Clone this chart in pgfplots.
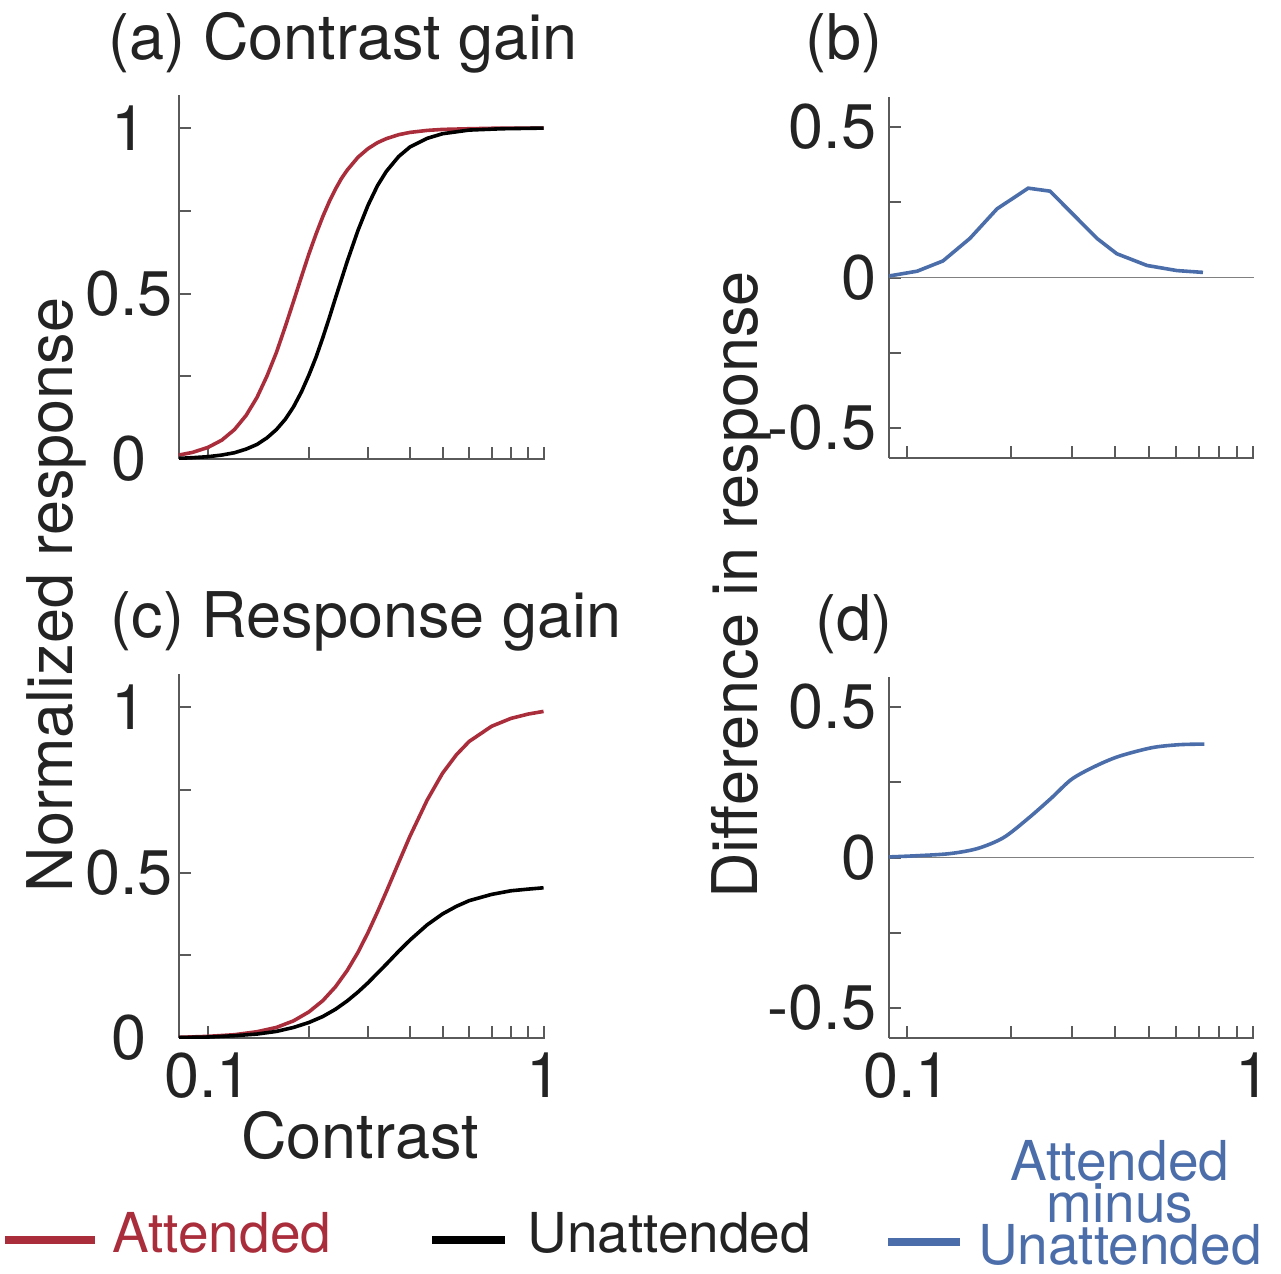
\documentclass[border=0pt]{standalone}
\usepackage{pgfplots}
\pgfplotsset{compat=1.18}
\usepackage{fontspec}
\setmainfont{TeX Gyre Heros}

\definecolor{attred}{RGB}{170,45,60}
\definecolor{diffblue}{RGB}{75,110,170}
\definecolor{axgray}{RGB}{90,90,90}
\definecolor{txt}{RGB}{35,35,35}
\newcommand\mainfs{\fontsize{15.75pt}{18pt}\selectfont}
\newcommand\legfs{\fontsize{13.75pt}{16pt}\selectfont}

\pgfplotsset{
  panel/.style={
    scale only axis,
    axis x line=bottom, axis y line=left,
    axis line style={-, axgray, line width=0.5pt},
    tick style={axgray, line width=0.5pt},
    tick align=inside,
    major tick length=3pt,
    xtick={0.1,0.2,0.3,0.4,0.5,0.6,0.7,0.8,0.9,1},
    minor xtick={},
    xticklabels={},
    tick label style={font=\mainfs, text=txt, inner sep=0pt},
    xticklabel style={anchor=north, yshift=-3.5pt},
    anchor=south west,
  },
  leftpanel/.style={panel, width=91.5pt, height=91pt,
    xmin=0.082, xmax=1.01, ymin=0, ymax=1.1,
    ytick={0,0.25,0.5,0.75,1}, yticklabels={0,{},0.5,{},1},
    yticklabel style={anchor=center, xshift=-12.5pt}},
  rightpanel/.style={panel, width=91.25pt, height=90.25pt,
    xmin=0.0887, xmax=1.007, ymin=-0.6, ymax=0.6,
    ytick={-0.5,-0.25,0,0.25,0.5}, yticklabels={-0.5,{},0\hspace{5pt},{},0.5},
    yticklabel style={anchor=east, xshift=-3pt}},
}

\begin{document}
\begin{tikzpicture}
\path[use as bounding box] (0,0) rectangle (320.25pt,-318.25pt);

% (a) contrast gain
\begin{semilogxaxis}[leftpanel, at={(44.75pt,-114.75pt)}]
\addplot[attred, line width=0.9pt] coordinates {
(0.082,0.012) (0.09,0.020) (0.10,0.035) (0.11,0.057) (0.12,0.089) (0.13,0.132)
(0.14,0.186) (0.15,0.251) (0.16,0.322) (0.17,0.400) (0.18,0.477) (0.19,0.551)
(0.20,0.620) (0.21,0.680) (0.22,0.733) (0.23,0.778) (0.24,0.816) (0.25,0.848)
(0.26,0.873) (0.28,0.912) (0.30,0.938) (0.32,0.956) (0.34,0.968) (0.37,0.980)
(0.40,0.987) (0.45,0.993) (0.50,0.996) (0.60,0.998) (0.75,1.000) (1.0,1.000)};
\addplot[black, line width=0.9pt] coordinates {
(0.082,0.002) (0.09,0.004) (0.10,0.007) (0.11,0.012) (0.12,0.019) (0.13,0.030)
(0.14,0.044) (0.15,0.064) (0.16,0.089) (0.17,0.120) (0.18,0.158) (0.19,0.203)
(0.20,0.254) (0.21,0.308) (0.22,0.367) (0.23,0.427) (0.24,0.487) (0.25,0.543)
(0.26,0.597) (0.28,0.691) (0.30,0.767) (0.32,0.826) (0.34,0.869) (0.37,0.914)
(0.40,0.943) (0.45,0.969) (0.50,0.983) (0.60,0.994) (0.75,0.998) (1.0,1.000)};
\end{semilogxaxis}

% (b) difference, contrast gain
\begin{semilogxaxis}[rightpanel, at={(222.25pt,-114.5pt)}]
\addplot[gray, line width=0.4pt] coordinates {(0.0887,0) (1.007,0)};
\addplot[diffblue, line width=0.9pt] coordinates {
(0.0887,0.005) (0.107,0.021) (0.127,0.055) (0.152,0.130) (0.182,0.228)
(0.224,0.297) (0.259,0.287) (0.302,0.210) (0.354,0.130) (0.404,0.079)
(0.494,0.040) (0.603,0.023) (0.717,0.017)};
\end{semilogxaxis}

% (c) response gain
\begin{semilogxaxis}[leftpanel, at={(44.75pt,-259.5pt)}, xticklabels={0.1,{},{},{},{},{},{},{},{},1}]
\addplot[attred, line width=0.9pt] coordinates {
(0.082,0.002) (0.10,0.005) (0.12,0.010) (0.14,0.019) (0.16,0.032) (0.18,0.052)
(0.20,0.079) (0.22,0.113) (0.24,0.155) (0.26,0.204) (0.28,0.259) (0.30,0.319)
(0.32,0.381) (0.34,0.442) (0.37,0.530) (0.40,0.610) (0.45,0.719) (0.50,0.800)
(0.55,0.856) (0.60,0.896) (0.70,0.942) (0.80,0.966) (0.90,0.979) (1.0,0.987)};
\addplot[black, line width=0.9pt] coordinates {
(0.082,0.0015) (0.10,0.003) (0.12,0.007) (0.14,0.012) (0.16,0.020) (0.18,0.032)
(0.20,0.047) (0.22,0.065) (0.24,0.087) (0.26,0.112) (0.28,0.139) (0.30,0.167)
(0.32,0.196) (0.34,0.223) (0.37,0.262) (0.40,0.296) (0.45,0.342) (0.50,0.375)
(0.55,0.398) (0.60,0.415) (0.70,0.434) (0.80,0.445) (0.90,0.450) (1.0,0.454)};
\end{semilogxaxis}

% (d) difference, response gain
\begin{semilogxaxis}[rightpanel, at={(222.25pt,-259.5pt)}, xticklabels={0.1,{},{},{},{},{},{},{},{},1}]
\addplot[gray, line width=0.4pt] coordinates {(0.0887,0) (1.007,0)};
\addplot[diffblue, line width=0.9pt, smooth] coordinates {
(0.0887,0.002) (0.107,0.006) (0.133,0.013) (0.160,0.030) (0.190,0.066)
(0.224,0.130) (0.261,0.197) (0.299,0.260) (0.348,0.302) (0.409,0.336)
(0.510,0.365) (0.612,0.375) (0.724,0.377)};
\end{semilogxaxis}

% titles and labels
\node[anchor=base, font=\mainfs, text=txt] at (85.75pt,-15pt) {(a) Contrast gain};
\node[anchor=base, font=\mainfs, text=txt] at (211pt,-15pt) {(b)};
\node[anchor=base, font=\mainfs, text=txt] at (91.5pt,-159.25pt) {(c) Response gain};
\node[anchor=base, font=\mainfs, text=txt] at (213.5pt,-160pt) {(d)};
\node[anchor=base, font=\mainfs, text=txt] at (90pt,-289.5pt) {Contrast};
\node[anchor=base, rotate=90, font=\mainfs, text=txt] at (18pt,-148.75pt) {Normalized response};
\node[anchor=base, rotate=90, font=\mainfs, text=txt] at (189.25pt,-146.25pt) {Difference in response};

% legend
\draw[attred, line width=2pt] (1.25pt,-310pt) -- (23.75pt,-310pt);
\node[anchor=base west, inner sep=0pt, font=\legfs, text=attred] at (28pt,-313pt) {Attended};
\draw[black, line width=2pt] (108pt,-310pt) -- (126.25pt,-310pt);
\node[anchor=base west, inner sep=0pt, font=\legfs, text=txt] at (131.75pt,-313pt) {Unattended};
\draw[diffblue, line width=2pt] (222pt,-310.5pt) -- (240pt,-310.5pt);
\node[anchor=north, inner sep=0pt, align=center, text=diffblue,
      font=\fontsize{13.75pt}{10.5pt}\selectfont] at (280pt,-285pt)
      {Attended\\minus\\Unattended};
\end{tikzpicture}
\end{document}
